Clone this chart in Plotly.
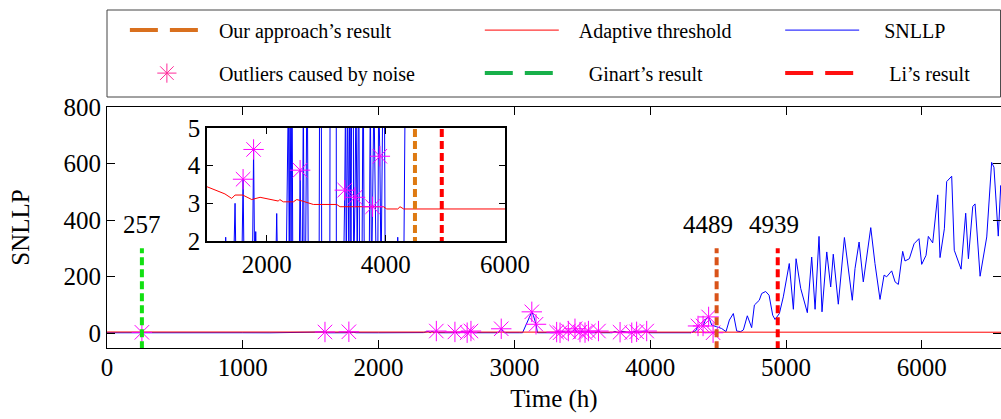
import plotly.graph_objects as go

# ---------------- data ----------------
snllp_t = [0, 120, 257, 400, 600, 800, 1000, 1200, 1300, 1313, 1330, 1440, 1470, 1490, 1580, 1605, 1625,
           1760, 1781, 1800, 1817, 1835, 2000, 2150, 2169, 2185, 2280, 2330, 2365, 2380, 2393, 2410, 2425,
           2440, 2545, 2562, 2580, 2600, 2616, 2630, 2652, 2680, 2700, 2880, 2903, 2925, 3040, 3060, 3128,
           3140, 3159, 3170, 3290, 3311, 3325, 3336, 3360, 3380, 3397, 3415, 3430, 3446, 3460, 3483, 3500,
           3520, 3545, 3560, 3600, 3619, 3640, 3720, 3740, 3760, 3778, 3800, 3840, 3864, 3880, 3900, 3920,
           3950, 3974, 3990, 4100, 4190, 4200, 4210, 4300, 4318, 4335, 4352, 4370, 4389, 4410, 4430, 4453,
           4490, 4526, 4558, 4583, 4612, 4637, 4666, 4686, 4715, 4747, 4767, 4803, 4821, 4850, 4875, 4902,
           4919, 4951, 4980, 5024, 5054, 5074, 5108, 5157, 5189, 5214, 5243, 5265, 5300, 5329, 5348, 5385,
           5430, 5459, 5488, 5508, 5538, 5569, 5594, 5624, 5655, 5692, 5722, 5741, 5778, 5803, 5827, 5859,
           5876, 5908, 5943, 5979, 5999, 6031, 6048, 6080, 6117, 6134, 6166, 6183, 6220, 6239, 6289, 6323,
           6343, 6375, 6392, 6429, 6478, 6514, 6531, 6563, 6581, 6600]
snllp_v = [0.9, 1.1, 2.5, 0.8, 1.2, 0.7, 1.0, 0.8, 1.2, 2.1, 1.0, 0.9, 3.0, 1.0, 0.9, 3.64, 0.8,
           1.0, 4.43, 1.2, 2.25, 1.0, 0.9, 1.0, 2.73, 1.1, 1.3, 1.5, 6, 1.2, 6.5, 1.5, 7,
           1.0, 1.0, 3.88, 1.0, 1.0, 6, 1.2, 1.2, 7, 1.0, 1.0, 15, 1.0, 1.0, 1.0, 75,
           62, 31, 1.0, 1.0, 3.35, 6, 1.0, 6, 1.2, 7, 1.0, 6, 15, 1.0, 3.16, 6,
           1.5, 7, 1.0, 1.2, 7, 1.0, 1.0, 6, 1.0, 2.91, 6, 1.0, 1.0, 6, 4.25, 1.0,
           6, 7, 1.0, 1.0, 1.0, 2.1, 1.0, 1.0, 5, 8, 25, 34, 25, 50, 57, 28,
           22, 16, 5, 46, 69, 7, 5, 11, 61, 19, 99, 116, 140, 147, 134, 63,
           48, 69, 128, 246, 84, 263, 158, 72, 269, 84, 342, 75, 287, 163, 279, 102,
           338, 222, 116, 228, 322, 181, 275, 373, 246, 119, 205, 199, 220, 181, 172, 289,
           255, 263, 316, 334, 243, 275, 342, 319, 489, 267, 369, 536, 555, 293, 226, 424,
           263, 448, 457, 201, 340, 604, 587, 343, 522, 400]

thr_t = [0, 500, 1000, 1100, 1218, 1300, 1414, 1470, 1600, 1750, 1890, 2057, 2197, 2220, 2280, 2450,
         2505, 2600, 2784, 3176, 3232, 3960, 4015, 4200, 4238, 4300, 6600]
thr_v = [3.6, 3.5, 3.44, 3.38, 3.31, 3.25, 3.13, 3.22, 3.22, 3.10, 3.16, 3.10, 3.06, 3.10, 3.04, 3.04,
         3.10, 3.06, 2.97, 2.97, 2.91, 2.91, 2.85, 2.85, 2.91, 2.85, 2.85]

out_t = [257, 1605, 1781, 2425, 2562, 2652, 2680, 2903, 3128, 3159, 3311, 3336, 3397, 3446, 3483, 3520,
         3545, 3619, 3778, 3864, 3900, 3974, 4352, 4389, 4430, 4463]
out_v = [2.5, 3.64, 4.43, 7, 3.88, 1.2, 7, 15, 75, 31, 3.35, 1.0, 7, 15, 3.16, 1.5,
         7, 7, 2.91, 1.0, 4.25, 7, 25, 25, 57, 1.0]

det_names = ["Ginart\u2019s result", "Our approach\u2019s result", "Li\u2019s result"]
det_t = [257, 4489, 4939]
det_labels = ["257", "4489", "4939"]
det_top = 300

x_ticks = [0, 1000, 2000, 3000, 4000, 5000, 6000]
y_ticks = [0, 200, 400, 600, 800]
inset_x_ticks = [2000, 4000, 6000]
inset_y_ticks = [2, 3, 4, 5]

# ---------------- styles ----------------
FONT = "Liberation Serif"
C_BLUE = "#0000ff"
C_RED = "#ff0000"
C_MAG = "#ff00ff"
det_colors_main = ["#12e012", "#d95319", "#ff0000"]
det_colors_inset = ["#12e012", "#de7a12", "#ff0000"]
det_colors_leg = ["#18b04a", "#d9701e", "#ff1010"]
star = dict(symbol="asterisk-open", size=17, color=C_MAG, line=dict(color=C_MAG, width=1))

fig = go.Figure()

for xa, ya, dcols in (("x", "y", det_colors_main), ("x2", "y2", det_colors_inset)):
    fig.add_trace(go.Scatter(x=snllp_t, y=snllp_v, mode="lines", line=dict(color=C_BLUE, width=1),
                             showlegend=False, xaxis=xa, yaxis=ya))
    fig.add_trace(go.Scatter(x=thr_t, y=thr_v, mode="lines", line=dict(color=C_RED, width=1),
                             showlegend=False, xaxis=xa, yaxis=ya))
    fig.add_trace(go.Scatter(x=out_t, y=out_v, mode="markers", marker=star,
                             showlegend=False, xaxis=xa, yaxis=ya))
    for t, c in zip(det_t, dcols):
        ytop = det_top if xa == "x" else 10
        fig.add_trace(go.Scatter(x=[t, t], y=[-100, ytop], mode="lines",
                                 line=dict(color=c, width=4, dash="8px,4px"),
                                 showlegend=False, xaxis=xa, yaxis=ya))

# legend entries
NB = "\u00a0"
leg_dash = "28px,12px"
legend_items = [
    ("legend", NB * 2 + "Our approach\u2019s result",
     dict(mode="lines", line=dict(color=det_colors_leg[1], width=4, dash=leg_dash))),
    ("legend", NB * 2 + "Outliers caused by noise",
     dict(mode="markers", marker=dict(symbol="asterisk-open", size=16, color="#ff2a9a",
                                      line=dict(color="#ff2a9a", width=1)))),
    ("legend2", NB * 3 + "Adaptive threshold", dict(mode="lines", line=dict(color=C_RED, width=1))),
    ("legend2", NB * 5 + "Ginart\u2019s result",
     dict(mode="lines", line=dict(color=det_colors_leg[0], width=4, dash=leg_dash))),
    ("legend3", NB * 4 + "SNLLP", dict(mode="lines", line=dict(color=C_BLUE, width=1))),
    ("legend3", NB * 5 + "Li\u2019s result",
     dict(mode="lines", line=dict(color=det_colors_leg[2], width=4, dash=leg_dash))),
]
for i, (lg, name, kw) in enumerate(legend_items):
    fig.add_trace(go.Scatter(x=[None], y=[None], name=name, legend=lg, legendgroup="g%d" % i,
                             showlegend=True, xaxis="x", yaxis="y", **kw))

for t, lab, dx in zip(det_t, det_labels, [0, -9, -4]):
    fig.add_annotation(x=t, y=det_top, xref="x", yref="y", text=lab, showarrow=False,
                       yanchor="bottom", yshift=8, xshift=dx, font=dict(family=FONT, size=25, color="black"))

axis_common = dict(showgrid=False, zeroline=False, showline=True, linecolor="black", mirror="allticks",
                   ticks="inside", tickcolor="black", tickfont=dict(family=FONT, size=25, color="black"))

leg_common = dict(font=dict(family=FONT, size=20, color="black"), bgcolor="rgba(0,0,0,0)",
                  borderwidth=0, orientation="v", yanchor="top", xanchor="left", itemwidth=74,
                  tracegroupgap=14, y=1.40)

fig.update_layout(
    width=1001, height=419, autosize=False,
    margin=dict(l=107, r=0, t=107, b=71, autoexpand=False),
    paper_bgcolor="white", plot_bgcolor="white",
    font=dict(family=FONT, color="black"),
    xaxis=dict(domain=[0, 1], range=[0, 6583], tickvals=x_ticks, ticklen=8, linewidth=1,
               ticklabelstandoff=-3,
               title=dict(text="Time (h)", font=dict(family=FONT, size=25), standoff=9), **axis_common),
    yaxis=dict(domain=[0, 1], range=[-53, 800], tickvals=y_ticks, ticklen=8, linewidth=1,
               title=dict(text="SNLLP", font=dict(family=FONT, size=25), standoff=26), **axis_common),
    xaxis2=dict(domain=[0.1119, 0.4452], anchor="y2", range=[1000, 6000], tickvals=inset_x_ticks,
                ticklen=6, linewidth=1.5, **axis_common),
    yaxis2=dict(domain=[0.444, 0.9129], anchor="x2", range=[2, 5], tickvals=inset_y_ticks,
                ticklen=6, linewidth=1.5, **axis_common),
    legend=dict(x=0.020, **leg_common),
    legend2=dict(x=0.417, **leg_common),
    legend3=dict(x=0.753, **leg_common),
    shapes=[dict(type="rect", xref="paper", yref="paper", x0=0, x1=0.9995,
                 y0=(348 - 97) / 241, y1=(348 - 10) / 241, line=dict(color="#444444", width=1))],
)

fig.write_html("out.html", config={"displayModeBar": False},
               post_script="document.body.style.margin='0px';")
